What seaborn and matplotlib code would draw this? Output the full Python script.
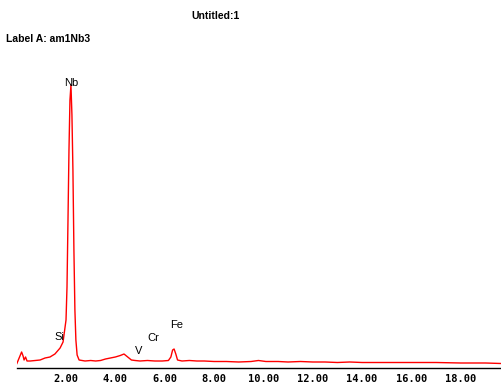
import matplotlib
matplotlib.use("Agg")
import matplotlib.pyplot as plt
import seaborn as sns
import pandas as pd

# spectrum (keV, counts)
energy = [0.00, 0.10, 0.20, 0.26, 0.30, 0.36, 0.42, 0.55, 0.75, 0.95, 1.15, 1.35,
          1.55, 1.76, 1.88, 2.00, 2.04, 2.08, 2.12, 2.16, 2.20, 2.24, 2.28, 2.32,
          2.36, 2.40, 2.45, 2.53, 2.77, 3.00, 3.20, 3.40, 3.60, 3.80, 4.00, 4.20,
          4.35, 4.50, 4.65, 4.80, 5.00, 5.30, 5.60, 5.90, 6.15, 6.25, 6.32, 6.38,
          6.45, 6.52, 6.70, 7.00, 7.30, 7.60, 8.00, 8.50, 9.00, 9.50, 9.80, 10.10,
          10.60, 11.00, 11.50, 12.00, 12.50, 13.00, 13.50, 14.00, 15.00, 16.00,
          17.00, 18.00, 19.00, 19.63]
counts = [4, 10, 16, 12, 8, 11, 7, 7, 7.5, 8, 10, 11,
          14, 20, 26, 48, 81, 148, 218, 268, 283, 253, 198, 118,
          58, 28, 13, 8, 7, 7.5, 7, 7.5, 9, 10, 11, 12.5,
          14, 11, 8, 7.5, 7, 7.5, 7, 7, 7.5, 11, 18, 19,
          14, 8, 7, 7.5, 7, 7, 6.5, 6.5, 6, 6.5, 7.5, 6.5,
          6.5, 6, 6.5, 6, 6, 5.5, 6, 5.5, 5.5, 5.5,
          5.5, 5, 5, 4.5]

peak_names = ["Nb", "Si", "V", "Cr", "Fe"]
peak_x = [2.22, 1.72, 4.94, 5.53, 6.48]
peak_y = [284.5, 31, 17, 30, 43.5]

tick_vals = [2, 4, 6, 8, 10, 12, 14, 16, 18]
tick_labels = ["%.2f" % t for t in tick_vals]

df = pd.DataFrame({"keV": energy, "counts": counts})

sns.set_style("white")
fig = plt.figure(figsize=(5.01, 3.86), dpi=100)
W, H = 501, 386
ax = fig.add_axes([16.67 / W, 1 - 368 / H, 1 - 16.67 / W, (368 - 60) / H])

sns.lineplot(data=df, x="keV", y="counts", ax=ax, color="#ff0000", lw=1,
             sort=False, estimator=None)

ax.set_xlim(0, 19.63)
ax.set_ylim(0, 308)
for s in ["left", "right", "top"]:
    ax.spines[s].set_visible(False)
ax.spines["bottom"].set_color("black")
ax.spines["bottom"].set_linewidth(1)
ax.set_yticks([])
ax.set_xticks(tick_vals)
ax.set_xticklabels(tick_labels, family="DejaVu Sans Mono", weight="bold",
                   fontsize=7.5, color="black")
ax.tick_params(axis="x", direction="inout", length=4, width=1, color="black", pad=2)
ax.set_xlabel("")
ax.set_ylabel("")

for name, px, py in zip(peak_names, peak_x, peak_y):
    ax.text(px, py, name, ha="center", va="center", fontsize=8,
            family="Liberation Sans", color="black")

fig.text(215 / W, 1 - 16 / H, "Untitled:1", ha="center", va="center",
         fontsize=7.5, weight="bold", family="Liberation Sans", color="black")
fig.text(6 / W, 1 - 38.5 / H, "Label A: am1Nb3", ha="left", va="center",
         fontsize=7.5, weight="bold", family="Liberation Sans", color="black")

fig.savefig("out.png", dpi=100)
